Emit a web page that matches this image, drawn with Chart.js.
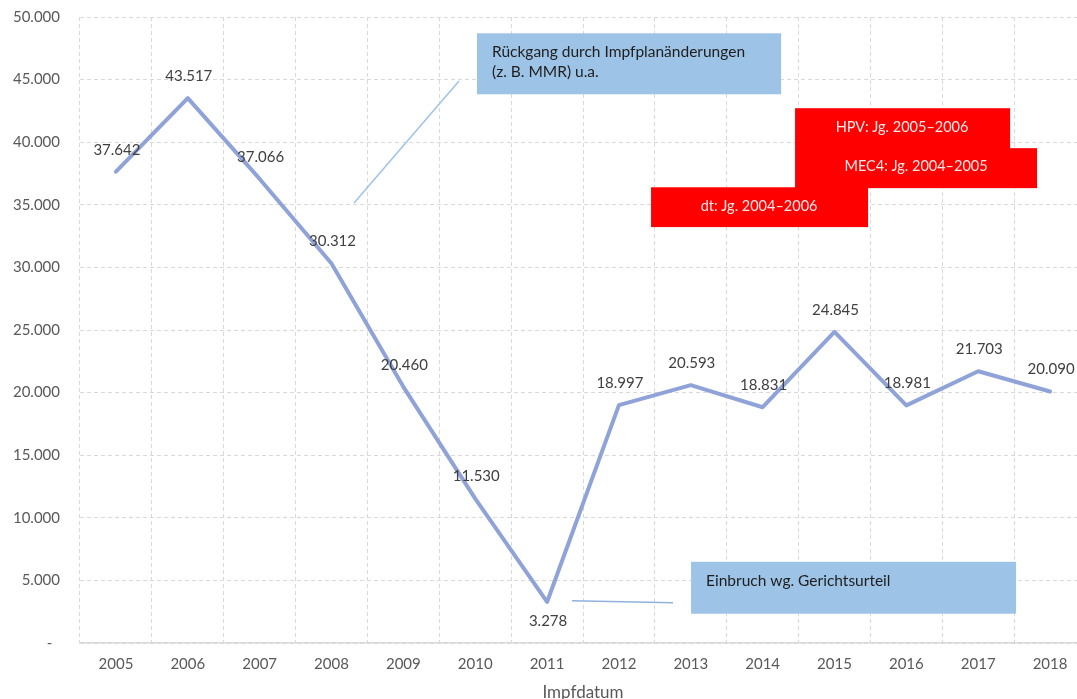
<!DOCTYPE html>
<html lang="de">
<head>
<meta charset="utf-8">
<title>Impfungen nach Impfdatum</title>
<script src="https://cdn.jsdelivr.net/npm/chart.js@4.4.1/dist/chart.umd.min.js"></script>
<style>
  html, body { margin: 0; padding: 0; background: #ffffff; overflow: hidden; }
  #wrap { width: 1090px; height: 699px; }
</style>
</head>
<body>
<div id="wrap"><canvas id="chart" width="1090" height="699"></canvas></div>
<script>
// Jahre (Impfdatum) und Anzahl der Impfungen je Jahr
const years = ['2005', '2006', '2007', '2008', '2009', '2010', '2011',
               '2012', '2013', '2014', '2015', '2016', '2017', '2018'];
const impfungen = [37642, 43517, 37066, 30312, 20460, 11530, 3278,
                   18997, 20593, 18831, 24845, 18981, 21703, 20090];

// Y-Achse
const yMin = 0;
const yMax = 50000;
const yStep = 5000;

// Hinweistexte
const noteDecline = ['Rückgang durch Impfplanänderungen', '(z. B. MMR) u.a.'];
const noteCourt = ['Einbruch wg. Gerichtsurteil'];
const cohortNotes = ['HPV: Jg. 2005–2006', 'MEC4: Jg. 2004–2005', 'dt: Jg. 2004–2006'];

const FONT = 'Lato, "Open Sans", "DejaVu Sans", sans-serif';

function formatDE(v) {
  return String(Math.round(v)).replace(/\B(?=(\d{3})+(?!\d))/g, '.');
}

// Zeichnet Hinweisboxen und Verbindungslinien in Achseneinheiten
const notesPlugin = {
  id: 'notes',
  afterDatasetsDraw(chart) {
    const ctx = chart.ctx;
    const xs = chart.scales.x, ys = chart.scales.y;
    const X = v => xs.getPixelForValue(v);
    const Y = v => ys.getPixelForValue(v);

    function box(x0, x1, y0, y1, color) {
      ctx.fillStyle = color;
      ctx.fillRect(X(x0), Y(y0), X(x1) - X(x0), Y(y1) - Y(y0));
    }
    function line(x0, y0, x1, y1, color) {
      ctx.strokeStyle = color;
      ctx.lineWidth = 1.5;
      ctx.beginPath();
      ctx.moveTo(X(x0), Y(y0));
      ctx.lineTo(X(x1), Y(y1));
      ctx.stroke();
    }
    function text(str, x, y, align, color) {
      ctx.fillStyle = color;
      ctx.textAlign = align;
      ctx.textBaseline = 'middle';
      ctx.fillText(str, X(x), Y(y));
    }

    ctx.save();

    // Rückgang 2006–2009
    ctx.font = '15.5px ' + FONT;
    line(4.775, 44880, 3.313, 35145, '#9DC3E6');
    box(5.025, 9.257, 48700, 43830, '#9DC3E6');
    text(noteDecline[0], 5.234, 47183, 'left', '#1e1e1e');
    text(noteDecline[1], 5.234, 45587, 'left', '#1e1e1e');

    // Einbruch 2011
    line(6.348, 3375, 7.753, 3216, '#92B1DF');
    box(8.004, 12.527, 6487, 2338, '#9DC3E6');
    text(noteCourt[0], 8.213, 4971, 'left', '#1e1e1e');

    // Jahrgangshinweise
    ctx.font = '14.5px ' + FONT;
    box(9.451, 12.444, 42715, 39400, '#FF0000');
    box(9.451, 12.819, 39523, 36331, '#FF0000');
    box(7.447, 10.467, 36400, 33219, '#FF0000');
    text(cohortNotes[0], 10.940, 41200, 'center', '#FFE8E8');
    text(cohortNotes[1], 11.135, 38088, 'center', '#FFE8E8');
    text(cohortNotes[2], 8.950, 34896, 'center', '#FFE8E8');
    ctx.restore();
  }
};

// Datenbeschriftungen über den Punkten (Tiefstwert darunter)
const valueLabels = {
  id: 'valueLabels',
  afterDatasetsDraw(chart) {
    const ctx = chart.ctx;
    const meta = chart.getDatasetMeta(0);
    const data = chart.data.datasets[0].data;
    const minVal = Math.min(...data);
    ctx.save();
    ctx.font = '15px ' + FONT;
    ctx.fillStyle = '#404040';
    ctx.textAlign = 'center';
    ctx.textBaseline = 'middle';
    meta.data.forEach((pt, i) => {
      const below = data[i] === minVal;
      ctx.fillText(formatDE(data[i]), pt.x + 1, pt.y + (below ? 19 : -22));
    });
    ctx.restore();
  }
};

Chart.defaults.font.family = FONT;

new Chart(document.getElementById('chart'), {
  type: 'line',
  data: {
    labels: years,
    datasets: [{
      label: 'Impfungen',
      data: impfungen,
      borderColor: '#8FA3D8',
      borderWidth: 4,
      borderJoinStyle: 'round',
      borderCapStyle: 'round',
      pointRadius: 0,
      pointHoverRadius: 0,
      tension: 0,
      fill: false
    }]
  },
  options: {
    responsive: false,
    animation: false,
    events: [],
    layout: { padding: { top: 17, right: 4, left: 0, bottom: 0 } },
    plugins: {
      legend: { display: false },
      tooltip: { enabled: false }
    },
    scales: {
      x: {
        offset: true,
        grid: {
          offset: true,
          color: '#D9D9D9',
          lineWidth: 1,
          drawTicks: false
        },
        border: { display: true, color: '#D9D9D9', width: 1.5, dash: [4, 3] },
        ticks: {
          color: '#595959',
          font: { size: 15 },
          padding: 12,
          maxRotation: 0,
          autoSkip: false
        },
        title: {
          display: true,
          text: 'Impfdatum',
          color: '#595959',
          font: { size: 17, lineHeight: 0.8 },
          padding: { top: 0, bottom: 0 }
        },
        afterFit(scale) { scale.height = 56; }
      },
      y: {
        min: yMin,
        max: yMax,
        grid: {
          color: '#D9D9D9',
          lineWidth: 1,
          drawTicks: false
        },
        border: { display: false, dash: [4, 3] },
        ticks: {
          stepSize: yStep,
          color: '#595959',
          font: { size: 15 },
          padding: 20,
          callback: v => (v === 0 ? '-  ' : formatDE(v))
        },
        afterFit(scale) {
          scale.width = 80;
          scale.paddingTop = 0;
          scale.paddingBottom = 0;
        }
      }
    }
  },
  plugins: [notesPlugin, valueLabels]
});
</script>
</body>
</html>
